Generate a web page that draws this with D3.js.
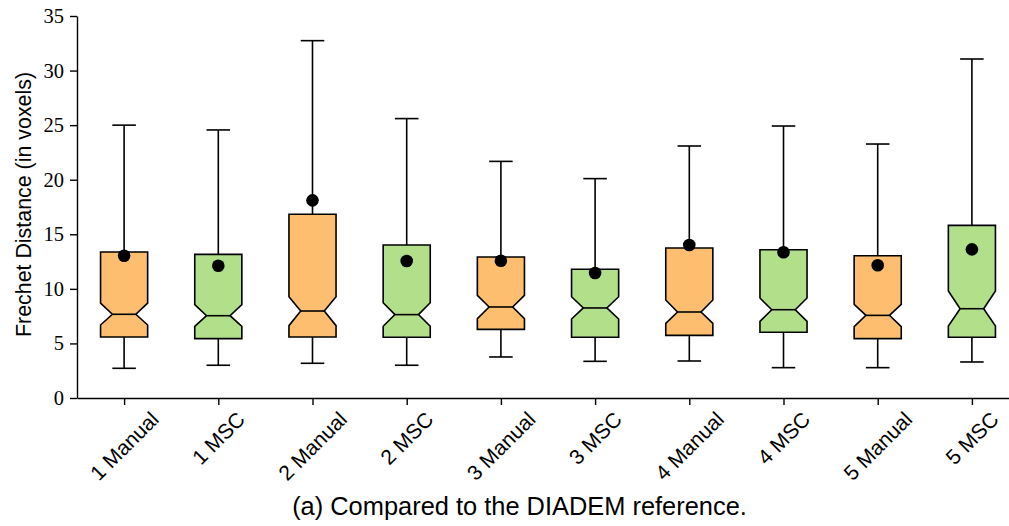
<!DOCTYPE html>
<html>
<head>
<meta charset="utf-8">
<script src="https://cdn.jsdelivr.net/npm/d3@7"></script>
<style>
  html, body { margin: 0; padding: 0; background: #fff; }
  svg { display: block; }
</style>
</head>
<body>
<svg id="chart" width="1009" height="526"></svg>
<script>
// Frechet distance per tracing method (notched box plots with means)
const labels      = ["1 Manual", "1 MSC", "2 Manual", "2 MSC", "3 Manual", "3 MSC", "4 Manual", "4 MSC", "5 Manual", "5 MSC"];
const groups      = ["Manual", "MSC", "Manual", "MSC", "Manual", "MSC", "Manual", "MSC", "Manual", "MSC"];
const whiskerLow  = [2.72, 3.00, 3.18, 3.00, 3.76, 3.36, 3.39, 2.78, 2.78, 3.30];
const q1          = [5.59, 5.44, 5.59, 5.56, 6.29, 5.56, 5.74, 6.02, 5.44, 5.56];
const notchLow    = [6.69, 6.57, 6.63, 6.57, 7.27, 7.24, 6.84, 7.02, 6.54, 6.60];
const medians     = [7.67, 7.54, 7.97, 7.64, 8.34, 8.25, 7.88, 8.09, 7.57, 8.18];
const notchHigh   = [8.70, 8.55, 9.28, 8.73, 9.41, 9.28, 8.98, 9.16, 8.58, 9.80];
const q3          = [13.38, 13.16, 16.83, 14.02, 12.92, 11.79, 13.74, 13.59, 13.04, 15.82];
const whiskerHigh = [25.00, 24.56, 32.74, 25.60, 21.68, 20.10, 23.09, 24.92, 23.27, 31.06];
const means       = [13.04, 12.12, 18.11, 12.55, 12.58, 11.45, 14.02, 13.35, 12.16, 13.62];
const yTicks      = [0, 5, 10, 15, 20, 25, 30, 35];

const yLabel  = "Frechet Distance (in voxels)";
const caption = "(a) Compared to the DIADEM reference.";

const groupColor = { Manual: "#fdbf6f", MSC: "#b2df8a" };

const svg = d3.select("#chart");

const x = d3.scaleLinear().domain([0.5, labels.length + 0.5]).range([77, 1019]);
const y = d3.scaleLinear().domain([0, 35]).range([398, 16]);

const boxHalf   = (x(1.25) - x(1));     // box width 0.5
const notchHalf = (x(1.125) - x(1));    // waist of the notch
const capHalf   = (x(1.125) - x(1));    // whisker caps

const boxes = labels.map((name, i) => ({
  name, i, pos: i + 1, group: groups[i],
  lo: whiskerLow[i], q1: q1[i], clo: notchLow[i], med: medians[i],
  chi: notchHigh[i], q3: q3[i], hi: whiskerHigh[i], mean: means[i]
}));

const sw = 1.6;
const plot = svg.append("g");

// whiskers and caps
const wg = plot.append("g").attr("stroke", "#000").attr("stroke-width", sw).attr("fill", "none");
boxes.forEach(b => {
  const cx = x(b.pos);
  wg.append("line").attr("x1", cx).attr("x2", cx).attr("y1", y(b.q1)).attr("y2", y(b.lo));
  wg.append("line").attr("x1", cx).attr("x2", cx).attr("y1", y(b.q3)).attr("y2", y(b.hi));
  wg.append("line").attr("x1", cx - capHalf).attr("x2", cx + capHalf).attr("y1", y(b.lo)).attr("y2", y(b.lo));
  wg.append("line").attr("x1", cx - capHalf).attr("x2", cx + capHalf).attr("y1", y(b.hi)).attr("y2", y(b.hi));
});

// notched boxes
const line = d3.line();
plot.append("g").selectAll("path.box").data(boxes).join("path")
  .attr("class", "box")
  .attr("fill", d => groupColor[d.group])
  .attr("stroke", "#000")
  .attr("stroke-width", sw)
  .attr("stroke-linejoin", "miter")
  .attr("d", d => {
    const cx = x(d.pos);
    const L = cx - boxHalf, R = cx + boxHalf, nL = cx - notchHalf, nR = cx + notchHalf;
    return line([
      [L, y(d.q1)], [R, y(d.q1)], [R, y(d.clo)], [nR, y(d.med)], [R, y(d.chi)],
      [R, y(d.q3)], [L, y(d.q3)], [L, y(d.chi)], [nL, y(d.med)], [L, y(d.clo)]
    ]) + "Z";
  });

// medians
plot.append("g").selectAll("line.med").data(boxes).join("line")
  .attr("stroke", "#000").attr("stroke-width", sw)
  .attr("x1", d => x(d.pos) - notchHalf).attr("x2", d => x(d.pos) + notchHalf)
  .attr("y1", d => y(d.med)).attr("y2", d => y(d.med));

// means
plot.append("g").selectAll("circle").data(boxes).join("circle")
  .attr("cx", d => x(d.pos)).attr("cy", d => y(d.mean)).attr("r", 6.3).attr("fill", "#000");

// y axis
const yAxis = svg.append("g")
  .attr("transform", `translate(${x(0.5)},0)`)
  .call(d3.axisLeft(y).tickValues(yTicks).tickSize(7).tickSizeOuter(0).tickPadding(6));
yAxis.select(".domain").attr("stroke", "#000").attr("stroke-width", 1.4);
yAxis.selectAll(".tick line").attr("stroke", "#000").attr("stroke-width", 1.4);
yAxis.selectAll(".tick text")
  .attr("font-family", "'Liberation Serif', 'Times New Roman', serif")
  .attr("font-size", 20.5).attr("fill", "#000");

// x axis
const xAxis = svg.append("g")
  .attr("transform", `translate(0,${y(0)})`)
  .call(d3.axisBottom(x).tickValues(boxes.map(b => b.pos)).tickSize(7).tickSizeOuter(0).tickFormat(""));
xAxis.select(".domain").attr("stroke", "#000").attr("stroke-width", 1.4);
xAxis.selectAll(".tick line").attr("stroke", "#000").attr("stroke-width", 1.4);

// rotated category labels, bounding box centred under each tick
const labelTop = y(0) + 12;
const fsX = 21;
const xl = svg.append("g").attr("font-family", "'Liberation Sans', Arial, sans-serif")
  .attr("font-size", fsX).attr("fill", "#000");
boxes.forEach(b => {
  const t = xl.append("text").attr("text-anchor", "middle").attr("dy", "0.36em").text(b.name);
  const w = t.node().getComputedTextLength();
  const h = fsX * 0.72;
  const cy = labelTop + (w + h) * Math.SQRT1_2 / 2;
  t.attr("transform", `translate(${x(b.pos)},${cy}) rotate(-45)`);
});

// y axis title
svg.append("text")
  .attr("transform", `translate(30.5,204.5) rotate(-90)`)
  .attr("text-anchor", "middle")
  .attr("font-family", "'Liberation Sans', Arial, sans-serif")
  .attr("font-size", 21.4)
  .attr("fill", "#000")
  .text(yLabel);

// caption
const cap = svg.append("text")
  .attr("x", 519.5).attr("y", 515)
  .attr("text-anchor", "middle")
  .attr("font-family", "'Liberation Sans', Arial, sans-serif")
  .attr("font-size", 22)
  .attr("fill", "#000")
  .text(caption);
const capW = cap.node().getComputedTextLength();
cap.attr("font-size", 22 * 455 / capW);
</script>
</body>
</html>
